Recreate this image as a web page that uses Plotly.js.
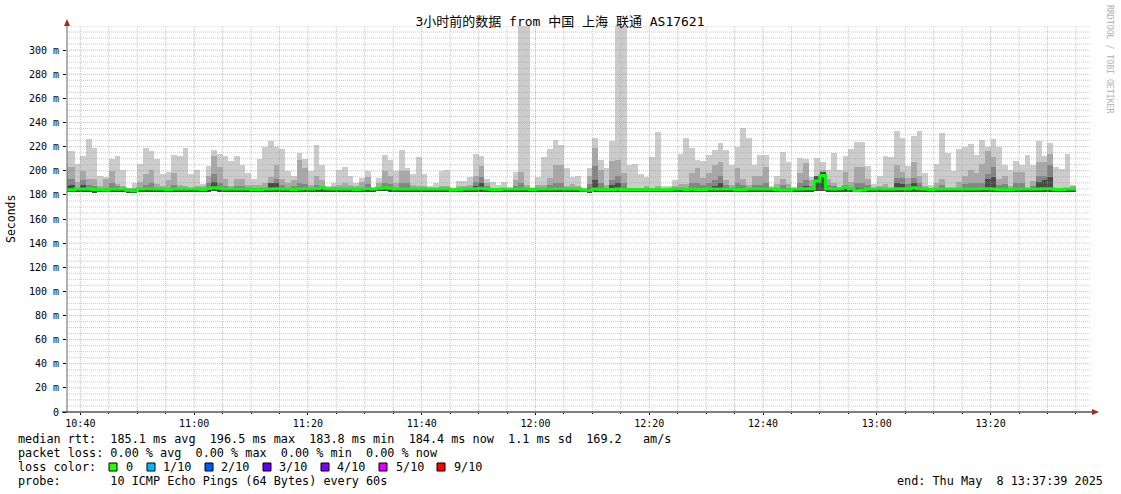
<!DOCTYPE html>
<html><head><meta charset="utf-8">
<script src="https://cdn.plot.ly/plotly-3.0.1.min.js"></script>
<style>body{margin:0;background:#fff}#chart{width:1121px;height:494px}</style>
</head><body><div id="chart"></div>
<script>
// ---- data (one value per 60 s step, first step starts 10:37) ----
const firstStep = [2025, 4, 8, 10, 37, 0];
const stepSec = 60;
const maxRtt = [216,
216,206,212,226,219,196,194.5,210,212,201,
186,190,206,219,216,210,197,199,213,212,
219,197,201,189,204,217,213.5,212,208,212,
205,198,193,210,220,225,220,218,200,196,
215,210,200,221,205,187,190,200.5,203,196,
190,194,200,186,194,213,209,200,217,202.5,
197,211,197,187,190,200,200.5,186,191.4,191.4,
195,214,212.5,193,190.5,188,191,185,199,340,
340,186,195,211,218,225.4,221,202.5,195,196,
186,202.5,227,209,202.5,224.6,340,340,205,206,
197,195,211,232,187.5,187.5,192,214,227,219,
209,208,213,217.5,223,217,204.7,220,235.6,227,
204.7,213,213,187,196,215.7,207,185,210.8,210,
195,210.8,207,201,214.6,200.5,212,218,224,224,
204,189,196,212,211,232.8,227,204,229,232.8,
197.8,188,206,231,214.6,199.7,218,220,221.8,213,
225.4,219.6,226.5,220,205,200.5,208,204.7,213,204.7,
224.6,212,223,203,201.5,214,188];
const upperRtt = [203,
203,190.6,199.7,193,193,187,193.5,199.7,189,187,
186,186,190.6,197,201,189,187,192,198,188,
187,186,187,187,195.6,212.5,203,193.5,187,193.5,
193,188,188,188.4,189.8,195,204.7,193,190,192,
208.8,202.5,188,196,192,186,187,188,190,188,
187,190.6,195,185,190,199.7,195.7,190,199.7,199.7,
188,187,187,186,186,187,187,185,187,187,
188,195.7,204,190,186,186,186,185,192,199,
188,185,188,188,194,204.7,204.7,187,189,187,
185,195.7,218.8,200.5,188,208,208.8,197.8,186,186,
186,187,186,187,185,185,187,189,189,197.8,
202.5,194,198.5,205,207,192,188,202.5,193.5,188,
196,196,203,186,189,193,189,185,197.8,206.5,
192,195,201,193.5,190,186,199,191,203,203,
193.5,186,187,189,186,204.7,199,194,207,195.7,
187,185,190,193,186,186,190.6,196,200.5,197.8,
206,216,211,193,195.6,187,199,199,186,191.4,
207,207,214,186,186,186,187];
const innerRtt = [193,
193,186,192,188,187,185,186,190,187,185,
185,185,186,188,190,186,185,186,188,186,
186,185,185,185,190,197,190,187,185,187,
187,186,186,186,186,189,193,188,186,187,
190,189,186,188,187,185,185,186,186,186,
185,186,189,185,186,190,189,186,190,190,
186,186,186,185,185,186,186,185,186,186,
186,190.7,195,187,185,185,185,185,187,190,
186,185,186,186,188,190,190,186,186,186,
185,189,204,190,186,192,196,190,185,185,
185,186,185,186,185,185,186,186,186,190,
190,188,190,192,196,188,186,190,188,186,
188,188,190,185,186,188,186,185,190,192,
187,193,196,188,187,185,188,186,190,190,
188,185,186,186,185,194,194,189,194,190,
186,185,186,188,185,185,186,189,190,190,
190,197,203,188,189,186,190,190,185,187,
196,196,204.7,185,185,185,186];
const coreRtt = [187,
188,185,188,186,185,185,185,186,185,185,
185,185,185,185,186,185,185,185,185,185,
185,185,185,185,186,191,186,185,185,185,
185,185,185,185,185,190,190,185,185,185,
186,185,185,185,185,185,185,185,185,185,
185,185,185,185,185,186,185,185,186,186,
185,185,185,185,185,185,185,185,185,185,
185,187,190,185,185,185,185,185,185,186,
185,185,185,185,185,186,186,185,185,185,
185,186,192,186,185,188,190,186,185,185,
185,185,185,185,185,185,185,185,185,185,
186,185,186,187,190,185,185,186,185,185,
185,185,186,185,185,185,185,185,186,187,
185,196,199,185,185,185,185,185,186,186,
185,185,185,185,185,190,189,185,190,186,
185,185,185,185,185,185,185,186,186,186,
186,193,195,185,186,185,186,186,185,185,
191,192,195,185,185,185,185];
const medianRtt = [184.3,
184.3,184.8,184.8,184.8,184.5,184.2,184.0,184.8,184.8,184.8,
183.8,183.5,184.8,185.0,185.0,184.8,184.8,184.5,184.8,184.8,
184.8,184.8,184.8,184.5,185.2,186.0,185.5,184.8,184.8,184.8,
184.8,184.8,184.5,184.5,184.8,184.8,185.0,184.8,184.8,184.5,
184.8,185.0,184.8,185.2,186.0,185.0,184.8,184.8,184.8,184.8,
184.5,184.8,185.2,184.8,185.5,186.0,185.5,184.8,184.8,184.8,
184.8,184.8,184.8,184.8,184.8,184.8,184.8,184.0,184.5,184.8,
184.8,185.0,185.5,184.8,184.5,184.5,184.8,184.8,184.8,184.8,
184.8,184.5,184.8,184.8,184.8,185.0,185.0,184.8,184.8,184.8,
184.0,183.8,184.8,184.5,184.5,184.5,184.8,184.5,184.5,184.5,
184.5,184.5,184.5,184.5,184.5,184.5,184.8,184.8,184.5,184.8,
184.5,184.5,184.8,184.8,184.8,184.8,184.8,184.5,184.5,184.8,
184.8,184.8,184.8,184.8,184.5,184.0,184.0,184.8,184.8,185.0,
185.0,191.6,196.0,185.0,184.8,185.0,186.5,185.0,183.7,184.0,
184.8,184.8,185.0,184.8,184.8,185.0,185.0,184.8,186.0,185.0,
184.8,184.5,184.8,184.8,184.8,184.8,184.8,184.8,184.8,184.8,
185.0,185.0,184.8,184.5,184.5,184.5,184.8,184.8,184.8,184.8,
184.8,185.0,185.0,184.5,184.5,184.8,184.8];
const minRtt = [182.5,
182.3,182.5,182.5,182.5,181.5,182.5,182.5,182.5,182.5,182.5,
181.5,181.5,182.5,182.5,182.5,182.5,182.5,182.0,182.5,182.5,
182.5,182.5,182.5,182.5,182.5,183.0,182.5,182.5,182.5,182.5,
182.5,182.5,182.0,182.5,182.5,182.5,182.5,182.5,182.5,182.5,
182.5,182.5,182.5,182.5,182.5,182.5,182.5,182.0,182.5,182.5,
182.5,182.5,182.5,182.5,183.0,183.0,182.5,182.5,182.0,182.5,
182.5,182.5,182.0,182.0,182.5,182.5,182.5,182.0,182.5,182.5,
182.5,182.5,182.5,182.0,182.5,182.5,182.5,182.5,182.0,182.5,
182.5,182.0,182.5,182.5,182.5,182.5,182.5,182.5,182.5,182.5,
182.0,181.5,182.5,182.5,182.5,182.5,182.5,182.5,182.0,182.5,
182.5,182.5,182.5,182.5,182.0,182.0,182.5,182.5,182.5,182.5,
182.5,182.5,182.5,182.5,182.5,182.5,182.5,182.5,182.5,182.5,
182.5,182.5,182.5,182.5,182.5,182.0,182.0,182.5,182.5,182.5,
182.5,183.0,183.0,182.5,182.5,182.5,182.5,182.5,182.0,182.0,
182.5,182.5,182.5,182.5,182.5,182.5,182.5,182.5,182.5,182.5,
182.5,182.0,182.5,182.5,182.5,182.5,182.5,182.5,182.5,182.5,
182.5,182.5,182.5,182.0,182.0,182.5,182.5,182.5,182.5,182.5,
182.5,182.5,182.5,182.0,182.0,182.5,182.5];
const yTickVals = [0,20,40,60,80,100,120,140,160,180,200,220,240,260,280,300];
const yTickText = ['0','20 m','40 m','60 m','80 m','100 m','120 m','140 m','160 m','180 m','200 m','220 m','240 m','260 m','280 m','300 m'];
const lossLabels = ['0','1/10','2/10','3/10','4/10','5/10','9/10'];
const lossColors = ['#26ff00','#00b8ff','#0059ff','#5e00ff','#7e00ff','#dd00ff','#ff0000'];
const titleText = '3小时前的数据 from 中国 上海 联通 AS17621';
const statLines = [
  'median rtt:  185.1 ms avg  196.5 ms max  183.8 ms min  184.4 ms now  1.1 ms sd  169.2   am/s',
  'packet loss: 0.00 % avg  0.00 % max  0.00 % min  0.00 % now',
  'loss color:',
  'probe:       10 ICMP Echo Pings (64 Bytes) every 60s'
];
const endText = 'end: Thu May  8 13:37:39 2025';
const xStart = '2025-05-08 10:37:39', xEnd = '2025-05-08 13:37:39';

// ---- helpers ----
function pad(n){return (n<10?'0':'')+n;}
function fmt(ms){const d=new Date(ms);return d.getUTCFullYear()+'-'+pad(d.getUTCMonth()+1)+'-'+pad(d.getUTCDate())+' '+pad(d.getUTCHours())+':'+pad(d.getUTCMinutes())+':'+pad(d.getUTCSeconds());}
const t0 = Date.UTC(firstStep[0],firstStep[1],firstStep[2],firstStep[3],firstStep[4],firstStep[5]);
const n = maxRtt.length;
const centers = [], starts = [];
for (let i=0;i<n;i++){ centers.push(fmt(t0+(i*stepSec+stepSec/2)*1000)); starts.push(fmt(t0+i*stepSec*1000)); }
starts.push(fmt(t0+n*stepSec*1000));
const nb = s => s.replace(/ /g,'\u00a0');
const mono = 'DejaVu Sans Mono, monospace';
const L=67, R=1091, T=26, B=412;
const px = x => (x-L)/(R-L);
const py = y => (B-y)/(B-T);

function smoke(levels, color){
  return {type:'bar', x:centers, base:minRtt, y:levels.map((v,i)=>v-minRtt[i]),
    width:stepSec*1000, marker:{color:color, line:{width:0}}, hoverinfo:'skip', showlegend:false};
}
const traces = [
  smoke(maxRtt,'#cccccc'),
  smoke(upperRtt,'#a8a8a8'),
  smoke(innerRtt,'#848484'),
  smoke(coreRtt,'#4a4a4a'),
  {type:'scatter', mode:'lines', x:starts, y:medianRtt.concat([medianRtt[n-1]]),
   line:{shape:'hv', color:'#00ff00', width:3}, hoverinfo:'skip', showlegend:false}
];

// ---- grid (drawn above the smoke, as rrdtool does) ----
const shapes = [];
const gStart = Date.UTC(2025,4,8,10,40,0);
for (let m=0; m<=175; m+=5){
  const major = (m%20===0);
  shapes.push({type:'line', layer:'above', xref:'x', yref:'paper', x0:fmt(gStart+m*60000), x1:fmt(gStart+m*60000), y0:0, y1:1,
    line:{color: major?'rgba(255,95,95,0.56)':'rgba(159,159,159,0.55)', width:1, dash:'1px,1px'}});
}
for (let v=5; v<=320; v+=5){
  const major = (v%20===0 && v<320);
  shapes.push({type:'line', layer:'above', xref:'paper', yref:'y', x0:0, x1:1, y0:v, y1:v,
    line:{color: major?'rgba(255,95,95,0.56)':'rgba(159,159,159,0.55)', width:1, dash:'1px,1px'}});
}
// axes + arrows
shapes.push({type:'line', xref:'paper', yref:'paper', x0:0, x1:0, y0:0, y1:py(21), line:{color:'#666', width:1}, layer:'above'});
shapes.push({type:'line', xref:'paper', yref:'paper', x0:px(62), x1:px(1093), y0:0, y1:0, line:{color:'#000', width:1}, layer:'above'});
shapes.push({type:'path', xref:'paper', yref:'paper', layer:'above',
  path:`M ${px(67)},${py(19)} L ${px(64)},${py(26)} L ${px(70)},${py(26)} Z`, fillcolor:'#a32a24', line:{width:0}});
shapes.push({type:'path', xref:'paper', yref:'paper', layer:'above',
  path:`M ${px(1099)},${py(412)} L ${px(1092)},${py(409)} L ${px(1092)},${py(415)} Z`, fillcolor:'#a32a24', line:{width:0}});
// loss colour swatches
const swatchX = [109,147,205,263,321,379,437];
const labelX = [124,161,219,277,335,394,452];
lossColors.forEach((c,i)=>{
  shapes.push({type:'rect', xref:'paper', yref:'paper', x0:px(swatchX[i]), x1:px(swatchX[i]+8), y0:py(471), y1:py(463),
    fillcolor:c, line:{color:'#000', width:1}});
});

const annotations = [];
const rowY = [439,453,467,481];
statLines.forEach((s,i)=>{
  annotations.push({xref:'paper', yref:'paper', x:px(16), y:py(rowY[i]), xanchor:'left', yanchor:'middle',
    text:nb(s), showarrow:false, font:{family:mono, size:11.8, color:'#000'}});
});
lossLabels.forEach((s,i)=>{
  annotations.push({xref:'paper', yref:'paper', x:px(labelX[i]), y:py(467), xanchor:'left', yanchor:'middle',
    text:nb(s), showarrow:false, font:{family:mono, size:11.8, color:'#000'}});
});
annotations.push({xref:'paper', yref:'paper', x:px(1105), y:py(481), xanchor:'right', yanchor:'middle',
  text:nb(endText), showarrow:false, font:{family:mono, size:11.8, color:'#000'}});
annotations.push({xref:'paper', yref:'paper', x:px(11), y:py(219), xanchor:'center', yanchor:'middle', textangle:-90,
  text:'Seconds', showarrow:false, font:{family:mono, size:11.5, color:'#000'}});
annotations.push({xref:'paper', yref:'paper', x:px(1110), y:py(59), xanchor:'center', yanchor:'middle', textangle:90,
  text:nb('RRDTOOL / TOBI OETIKER'), showarrow:false, font:{family:mono, size:8.2, color:'#b0b0b0'}});

const layout = {
  width:1121, height:494,
  margin:{l:L, r:1121-R, t:T, b:494-B, pad:0},
  paper_bgcolor:'#ffffff', plot_bgcolor:'#ffffff',
  barmode:'overlay', bargap:0, showlegend:false,
  title:{text:titleText, xref:'container', yref:'container', x:560/1121, y:1-21/494, xanchor:'center', yanchor:'middle',
    font:{family:'DejaVu Sans Mono, Noto Sans CJK SC', size:13, color:'#000'}},
  xaxis:{type:'date', range:[xStart,xEnd], tickformat:'%H:%M', tick0:'2025-05-08 10:00:00', dtick:1200000,
    showgrid:false, zeroline:false, showline:false, ticks:'outside', ticklen:2, tickcolor:'#000',
    tickfont:{family:mono, size:10, color:'#000'},
    minor:{dtick:300000, ticks:'outside', ticklen:1, tickcolor:'#000', showgrid:false}},
  yaxis:{range:[0,320], tickvals:yTickVals, ticktext:yTickText, showgrid:false, zeroline:false, showline:false,
    ticks:'outside', ticklen:3, tickcolor:'#000', ticklabelstandoff:2, tickfont:{family:mono, size:10, color:'#000'}},
  shapes:shapes, annotations:annotations
};
Plotly.newPlot('chart', traces, layout, {staticPlot:true, displayModeBar:false});
</script></body></html>
